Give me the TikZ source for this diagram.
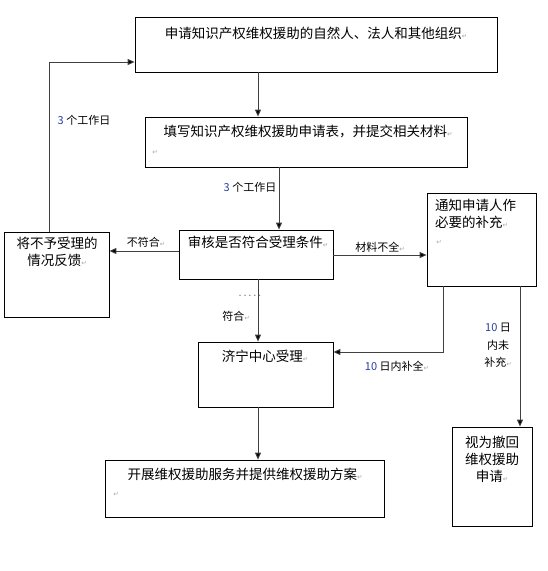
\documentclass[tikz,border=0pt]{standalone}
\usepackage{fontspec}
\setmainfont{Noto Sans CJK SC}
\newfontfamily\symfont{DejaVu Sans}
\usetikzlibrary{arrows.meta}
\definecolor{numblue}{RGB}{40,60,160}
\newcommand\pmk{{\symfont\color{gray!70}\fontsize{6.5}{6.5}\selectfont ↵}}
\tikzset{
  box/.style={draw=black, line width=0.8pt, inner sep=0pt},
  txt/.style={inner sep=0pt, font=\fontsize{13.5}{17}\selectfont, align=center},
  lbl/.style={inner sep=0pt, font=\fontsize{11}{15}\selectfont, align=center},
  conn/.style={draw=black!75, line width=0.9pt},
  arr/.style={conn, -{Triangle[length=7pt,width=6pt,fill=black]}}
}
\begin{document}
\begin{tikzpicture}[x=1pt,y=-1pt]
\useasboundingbox (0,0) rectangle (547,571);
% boxes
\node[box, minimum width=362pt, minimum height=55pt] (b1) at (316,44.5) {};
\node[box, minimum width=322pt, minimum height=50pt] (b2) at (306,142) {};
\node[box, minimum width=154pt, minimum height=49pt] (b3) at (256,254.5) {};
\node[box, minimum width=105pt, minimum height=85pt] (b4) at (56.5,274.5) {};
\node[box, minimum width=109pt, minimum height=93pt] (b5) at (481.5,239.5) {};
\node[box, minimum width=135pt, minimum height=65pt] (b6) at (265.5,374.5) {};
\node[box, minimum width=80pt, minimum height=99pt] (b7) at (492,476.5) {};
\node[box, minimum width=279pt, minimum height=57pt] (b8) at (244.5,488.5) {};
% box texts
\node[txt] (t1) at (316,33) {申请知识产权维权援助的自然人、法人和其他组织\pmk};
\node[txt] (t2) at (308,131) {填写知识产权维权援助申请表，并提交相关材料\pmk};
\node[txt] (t2m) at (155,152) {\pmk};
\node[txt] (t3) at (258,242) {审核是否符合受理条件\pmk};
\node[txt] (t4) at (57,252) {将不予受理的\\情况反馈\pmk};
\node[txt, align=left, anchor=west] (t5) at (435,214) {通知申请人作\\必要的补充\pmk};
\node[txt] (t5m) at (439,242) {\pmk};
\node[txt] (t6) at (265,356) {济宁中心受理\pmk};
\node[txt] (t7) at (492,459) {视为撤回\\维权援助\\申请\pmk};
\node[txt] (t8) at (245,474) {开展维权援助服务并提供维权援助方案\pmk};
\node[txt] (t8m) at (116,494) {\pmk};
% helper coordinates
\coordinate (x258) at (258,0);
\coordinate (x279) at (279,0);
\coordinate (x49) at (49,0);
\coordinate (y62) at (0,62);
\coordinate (y251) at (0,251);
\coordinate (y255) at (0,255);
\coordinate (x443) at (443,0);
\coordinate (y352) at (0,352);
\coordinate (x520) at (520,0);
% connectors
\draw[arr] (x258 |- b1.south) -- (x258 |- b2.north);
\draw[arr] (x279 |- b2.south) -- (x279 |- b3.north);
\draw[arr] (b3.west |- y251) -- (b4.east |- y251);
\draw[arr] (x49 |- b4.north) -- (x49 |- y62) -- (b1.west |- y62);
\draw[arr] (b3.east |- y255) -- (b5.west |- y255);
\draw[arr] (x443 |- b5.south) -- (x443 |- y352) -- (b6.east |- y352);
\draw[arr] (x520 |- b5.south) -- (x520 |- b7.north);
\draw[arr] (x258 |- b3.south) -- (x258 |- b6.north);
\draw[arr] (x258 |- b6.south) -- (x258 |- b8.north);
% labels
\node[lbl] (l1) at (84,120) {{\color{numblue}3} 个工作日};
\node[lbl] (l2) at (250,187) {{\color{numblue}3} 个工作日};
\node[lbl] (l3) at (146,242) {不符合\pmk};
\node[lbl] (l4) at (380,247) {材料不全\pmk};
\node[lbl] (l5) at (236,316) {符合\pmk};
\node[lbl, text=gray] (l6) at (250,296) {.\,.\,.\,.\,.};
\node[lbl] (l7) at (397,366) {{\color{numblue}10} 日内补全\pmk};
\node[lbl, font=\fontsize{11}{17.5}\selectfont] (l8) at (498,345.5) {{\color{numblue}10} 日\\内未\\补充\pmk};
\end{tikzpicture}
\end{document}
